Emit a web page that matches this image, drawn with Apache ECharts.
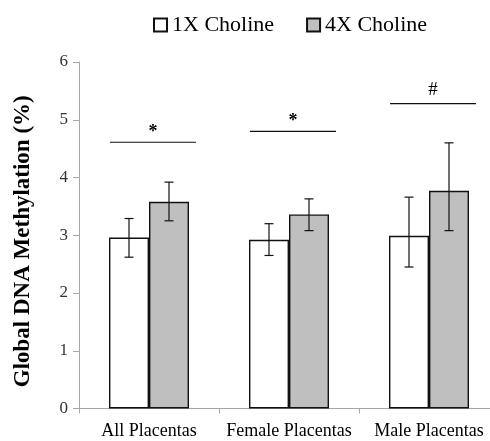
<!DOCTYPE html>
<html>
<head>
<meta charset="utf-8">
<script src="https://cdn.jsdelivr.net/npm/echarts@6/dist/echarts.min.js"></script>
<style>html,body{margin:0;padding:0;background:#fff;overflow:hidden;width:490px;height:441px;}#c{width:500px;height:441px;}</style>
</head>
<body>
<div id="c"></div>
<script>
const categories = ['All Placentas', 'Female Placentas', 'Male Placentas'];
const seriesNames = ['1X Choline', '4X Choline'];
const values1X = [2.96, 2.92, 2.99];
const values4X = [3.58, 3.36, 3.77];
const err1XLow = [2.62, 2.65, 2.45];
const err1XHigh = [3.29, 3.20, 3.66];
const err4XLow = [3.25, 3.08, 3.08];
const err4XHigh = [3.92, 3.63, 4.60];
const sigLevel = [4.61, 4.80, 5.28];
const sigMark = ['*', '*', '#'];
const yTicks = [0, 1, 2, 3, 4, 5, 6];

const FONT = 'Liberation Serif';
const BAR_W = 40;

const chart = echarts.init(document.getElementById('c'), null, {renderer: 'canvas'});

function errorSeries(name, low, high, side) {
  return {
    type: 'custom',
    name: name + ' err',
    z: 5,
    data: low.map((l, i) => [i, l, high[i]]),
    renderItem: function (params, api) {
      const lo = api.coord([api.value(0), api.value(1)]);
      const hi = api.coord([api.value(0), api.value(2)]);
      const x = lo[0] + side * BAR_W / 2;
      const cap = 4.5;
      const st = {stroke: '#111', lineWidth: 1.2};
      return {
        type: 'group',
        children: [
          {type: 'line', shape: {x1: x, y1: lo[1], x2: x, y2: hi[1]}, style: st},
          {type: 'line', shape: {x1: x - cap, y1: lo[1], x2: x + cap, y2: lo[1]}, style: st},
          {type: 'line', shape: {x1: x - cap, y1: hi[1], x2: x + cap, y2: hi[1]}, style: st}
        ]
      };
    }
  };
}

chart.setOption({
  animation: false,
  backgroundColor: '#fff',
  legend: {
    data: seriesNames,
    left: 153,
    top: 14,
    padding: 0,
    itemWidth: 13,
    itemHeight: 13,
    itemGap: 32,
    icon: 'rect',
    textStyle: {fontFamily: FONT, fontSize: 22, color: '#000'}
  },
  grid: {left: 79, top: 62, bottom: 32.5, width: 420, containLabel: false},
  xAxis: {
    type: 'category',
    data: categories,
    axisLine: {lineStyle: {color: '#a6a6a6', width: 1}},
    axisTick: {show: true, length: 5, lineStyle: {color: '#a6a6a6'}},
    axisLabel: {fontFamily: FONT, fontSize: 18, color: '#000', margin: 14, interval: 0}
  },
  yAxis: {
    type: 'value',
    min: yTicks[0],
    max: yTicks[yTicks.length - 1],
    interval: 1,
    name: 'Global DNA Methylation (%)',
    nameLocation: 'middle',
    nameGap: 44,
    nameRotate: 90,
    nameTextStyle: {fontFamily: FONT, fontSize: 23, fontWeight: 'bold', color: '#000', padding: [0, 12, 0, 0]},
    splitLine: {show: false},
    axisLine: {show: true, lineStyle: {color: '#a6a6a6', width: 1}},
    axisTick: {show: true, length: 6, lineStyle: {color: '#a6a6a6'}},
    axisLabel: {fontFamily: FONT, fontSize: 17, color: '#333', margin: 11}
  },
  series: [
    {
      name: seriesNames[0], type: 'bar', data: values1X, barWidth: BAR_W, barGap: '0%',
      itemStyle: {color: '#ffffff', borderColor: '#111', borderWidth: 1.4}
    },
    {
      name: seriesNames[1], type: 'bar', data: values4X, barWidth: BAR_W, barGap: '0%',
      itemStyle: {color: '#bfbfbf', borderColor: '#111', borderWidth: 1.4}
    },
    errorSeries(seriesNames[0], err1XLow, err1XHigh, -1),
    errorSeries(seriesNames[1], err4XLow, err4XHigh, 1),
    {
      type: 'custom',
      name: 'sig',
      z: 5,
      data: sigLevel.map((v, i) => [i, v]),
      renderItem: function (params, api) {
        const p = api.coord([api.value(0), api.value(1)]);
        const cx = p[0] + 4;
        const half = 43;
        const ch = sigMark[params.dataIndex];
        return {
          type: 'group',
          children: [
            {type: 'line', shape: {x1: cx - half, y1: p[1], x2: cx + half, y2: p[1]}, style: {stroke: '#111', lineWidth: 1.2}},
            {type: 'text', x: cx, y: p[1] - 14 + (ch === '*' ? 4 : 0),
             style: {text: ch, fill: '#000', font: (ch === '*' ? 'bold 18px ' : '19px ') + FONT, textAlign: 'center', textVerticalAlign: 'middle'}}
          ]
        };
      }
    }
  ]
});
</script>
</body>
</html>
